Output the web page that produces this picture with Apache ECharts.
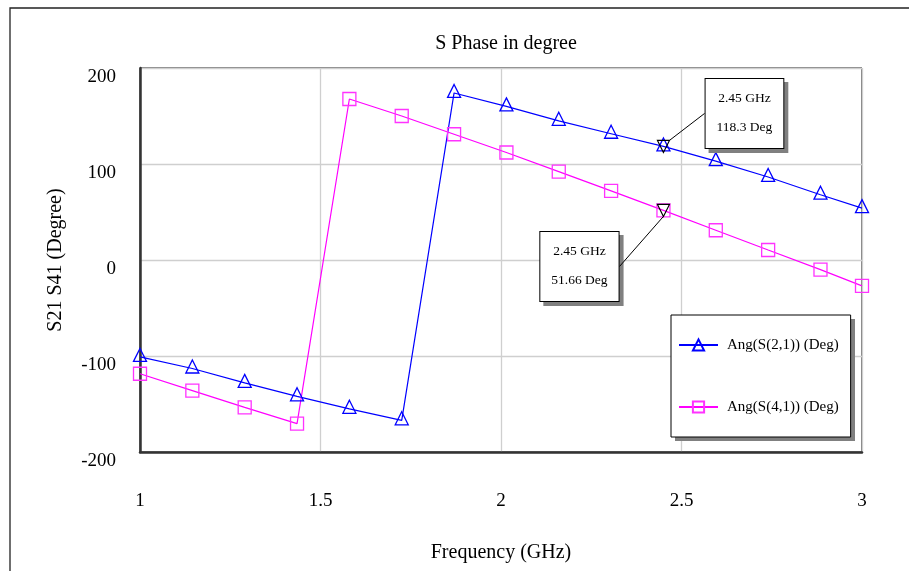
<!DOCTYPE html>
<html>
<head>
<meta charset="utf-8">
<script src="https://cdn.jsdelivr.net/npm/echarts@6/dist/echarts.min.js"></script>
<style>
  html, body { margin: 0; padding: 0; background: #fff; }
  #chart { width: 909px; height: 571px; }
</style>
</head>
<body>
<div id="chart"></div>
<script>
// sweep points (GHz)
const freq = [1, 1.145, 1.29, 1.435, 1.58, 1.725, 1.87, 2.015, 2.16, 2.305, 2.45, 2.595, 2.74, 2.885, 3];
// Ang(S(2,1)) in degree
const s21 = [-101, -113, -128, -142, -155, -167, 174, 160, 145, 131.5, 118.3, 103, 86.5, 68, 54];
// Ang(S(4,1)) in degree
const s41 = [-118.5, -136, -153.5, -170.5, 167.7, 150, 131, 112, 92, 72, 51.66, 31, 10.4, -10, -27];

// markers
const markerFreq = [2.45, 2.45];
const markerVal = [118.3, 51.66];

const seriesNames = ['Ang(S(2,1)) (Deg)', 'Ang(S(4,1)) (Deg)'];

const font = '"Liberation Serif", "Times New Roman", serif';

const chart = echarts.init(document.getElementById('chart'), null, { renderer: 'canvas' });

const pairs = (xs, ys) => xs.map((x, i) => [x, ys[i]]);
const markerText = (p) => p.value[0] + ' GHz\n' + p.value[1] + ' Deg';
// where the marker boxes sit, relative to their points
const boxShift = (i) => i === 0 ? { dx: 81, dy: -33 } : { dx: -84, dy: 56 };

const boxLabel = {
  show: true,
  position: 'inside',
  formatter: markerText,
  fontFamily: font,
  fontSize: 13.5,
  lineHeight: 29,
  opacity: 1,
  padding: [7, 11, 4, 11]
};

chart.setOption({
  animation: false,
  backgroundColor: '#fff',
  title: {
    text: 'S Phase in degree',
    left: 501,
    top: 29,
    textAlign: 'center',
    textStyle: { fontFamily: font, fontSize: 20, fontWeight: 'normal', color: '#000' }
  },
  grid: {
    left: 140,
    right: 47,
    top: 68,
    bottom: 119,
    show: true,
    borderColor: '#000',
    borderWidth: 1
  },
  legend: {
    data: seriesNames,
    orient: 'vertical',
    left: 671,
    top: 315,
    z: 6,
    backgroundColor: '#fff',
    borderColor: '#000',
    borderWidth: 1,
    padding: [22, 12, 22, 7],
    itemWidth: 39,
    itemHeight: 14,
    itemGap: 46,
    textStyle: { fontFamily: font, fontSize: 15, color: '#000', lineHeight: 16, padding: [0, 0, 0, 4] }
  },
  xAxis: {
    type: 'value',
    min: 1,
    max: 3,
    interval: 0.5,
    name: 'Frequency (GHz)',
    nameLocation: 'middle',
    nameGap: 91,
    nameTextStyle: { fontFamily: font, fontSize: 20, color: '#000' },
    axisLine: { onZero: false, lineStyle: { color: '#333', width: 2.5 } },
    axisTick: { show: false },
    axisLabel: { fontFamily: font, fontSize: 19, color: '#000', margin: 40 },
    splitLine: { lineStyle: { color: '#cfcfcf', width: 1.3 } }
  },
  yAxis: {
    type: 'value',
    min: -200,
    max: 200,
    interval: 100,
    name: 'S21 S41 (Degree)',
    nameLocation: 'middle',
    nameGap: 74,
    nameTextStyle: { fontFamily: font, fontSize: 20, color: '#000' },
    axisLine: { show: true, onZero: false, lineStyle: { color: '#333', width: 2.5 } },
    axisTick: { show: false },
    axisLabel: { fontFamily: font, fontSize: 19, color: '#000', margin: 24, verticalAlign: 'top', lineHeight: 19 },
    splitLine: { lineStyle: { color: '#cfcfcf', width: 1.3 } }
  },
  graphic: [
    {
      type: 'polyline',
      shape: { points: [[10, 571], [10, 8], [909, 8]] },
      style: { stroke: '#222', lineWidth: 1.3, fill: null },
      silent: true
    },
    {
      // legend drop shadow
      type: 'rect',
      z: 5,
      shape: { x: 675, y: 319, width: 180, height: 122 },
      style: { fill: '#808080' },
      silent: true
    }
  ],
  series: [
    {
      name: seriesNames[0],
      type: 'line',
      data: pairs(freq, s21),
      symbol: 'triangle',
      symbolSize: 13,
      symbolOffset: [0, -2],
      showAllSymbol: true,
      color: '#0000ff',
      lineStyle: { color: '#0000ff', width: 1.2 },
      itemStyle: { color: 'rgba(0,0,0,0)', borderColor: '#0000ff', borderWidth: 1.3 }
    },
    {
      name: seriesNames[1],
      type: 'line',
      data: pairs(freq, s41),
      symbol: 'rect',
      symbolSize: 13,
      showAllSymbol: true,
      color: '#ff00ff',
      lineStyle: { color: '#ff00ff', width: 1.2 },
      itemStyle: { color: 'rgba(0,0,0,0)', borderColor: '#ff33ff', borderWidth: 1.3 }
    },
    {
      // drop shadow of the marker boxes
      name: 'markerShadow',
      type: 'scatter',
      data: pairs(markerFreq, markerVal),
      symbol: 'circle',
      symbolSize: 2,
      z: 4,
      silent: true,
      itemStyle: { color: 'rgba(0,0,0,0)', borderWidth: 0 },
      label: Object.assign({}, boxLabel, {
        color: 'rgba(0,0,0,0)',
        backgroundColor: '#808080',
        borderColor: '#808080',
        borderWidth: 1
      }),
      labelLayout: (p) => {
        const s = boxShift(p.dataIndex);
        return { dx: s.dx + 4, dy: s.dy + 4 };
      }
    },
    {
      name: 'markers',
      type: 'scatter',
      data: pairs(markerFreq, markerVal),
      symbol: 'triangle',
      symbolRotate: 180,
      symbolSize: 12,
      z: 5,
      itemStyle: { color: 'rgba(0,0,0,0)', borderColor: '#000', borderWidth: 1.2, opacity: 1 },
      label: Object.assign({}, boxLabel, {
        color: '#000',
        backgroundColor: '#ffffff',
        borderColor: '#000',
        borderWidth: 1
      }),
      labelLine: { show: true, lineStyle: { color: '#000', width: 1 } },
      labelLayout: (p) => boxShift(p.dataIndex)
    }
  ]
});
</script>
</body>
</html>
